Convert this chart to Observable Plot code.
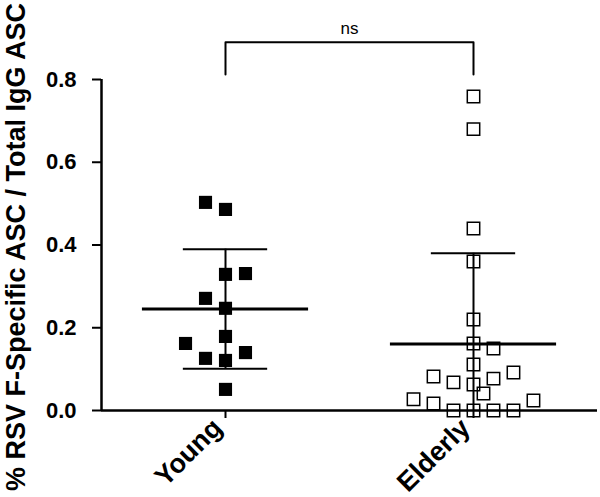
<!DOCTYPE html>
<html>
<head>
<meta charset="utf-8">
<script src="https://cdn.jsdelivr.net/npm/d3@7"></script>
<script src="https://cdn.jsdelivr.net/npm/@observablehq/plot@0.6"></script>
<style>
  html, body { margin: 0; padding: 0; background: #fff; }
  #chart svg { display: block; }
</style>
</head>
<body>
<div id="chart"></div>
<script>
// ---- Data ----
const groups = ["Young", "Elderly"];
const youngValues   = [0.503, 0.486, 0.329, 0.331, 0.271, 0.247, 0.179, 0.162, 0.126, 0.121, 0.140, 0.051];
const youngSlots    = [-1, 0, 0, 1, -1, 0, 0, -2, -1, 0, 1, 0];
const elderlyValues = [0.759, 0.680, 0.440, 0.360, 0.220, 0.162, 0.150, 0.111, 0.082, 0.068, 0.063, 0.077, 0.092, 0.041, 0.027, 0.017, 0, 0, 0, 0, 0.024];
const elderlySlots  = [0, 0, 0, 0, 0, 0, 1, 0, -2, -1, 0, 1, 2, 0.5, -3, -2, -1, 0, 1, 2, 3];
const yTicks = [0, 0.2, 0.4, 0.6, 0.8];
const yTitle = "% RSV F-Specific ASC / Total IgG ASC";
const sigLabel = "ns";
const bracketTop = 0.89;
const bracketBottom = 0.812;

// ---- Build tables ----
const SLOT = 0.0806;
function rows(values, slots, gi) {
  return values.map((v, i) => ({group: groups[gi], x: gi + 1 + slots[i] * SLOT, value: v}));
}
const young = rows(youngValues, youngSlots, 0);
const elderly = rows(elderlyValues, elderlySlots, 1);
const stats = [youngValues, elderlyValues].map((vals, gi) => {
  const m = d3.mean(vals), s = d3.deviation(vals);
  return {x: gi + 1, mean: m, lo: m - s, hi: m + s};
});
const caps = stats.flatMap(d => [{x: d.x, v: d.hi}, {x: d.x, v: d.lo}]);
const bracket = [
  {x: 1, y: bracketBottom}, {x: 1, y: bracketTop},
  {x: 2, y: bracketTop}, {x: 2, y: bracketBottom}
];

const font = "'Liberation Sans', Arial, Helvetica, sans-serif";

const chart = Plot.plot({
  width: 600,
  height: 497,
  marginLeft: 101,
  marginRight: 3,
  marginTop: 79,
  marginBottom: 87,
  style: {fontFamily: font, fontWeight: "bold", color: "#000", background: "#fff"},
  x: {type: "linear", domain: [0.5, 2.5]},
  y: {domain: [0, 0.8]},
  marks: [
    // axes
    Plot.axisY({ticks: yTicks, tickFormat: d3.format(".1f"), tickSize: 9, tickPadding: 16,
                fontSize: 22, fontWeight: "bold", strokeWidth: 2, label: null}),
    Plot.axisX({ticks: [1, 2], tickFormat: () => "", tickSize: 8, strokeWidth: 2, label: null}),
    Plot.axisX({ticks: [1, 2], tickFormat: d => groups[d - 1], tickSize: 0, tickPadding: 16,
                dx: -8, dy: -3, tickRotate: -45, fontSize: 27, fontWeight: "bold", label: null}),
    Plot.ruleX([0.5], {y1: 0, y2: 0.8, strokeWidth: 2.5}),
    Plot.ruleY([0], {strokeWidth: 2.5}),
    Plot.text([yTitle], {frameAnchor: "left", dx: -85, dy: 2, rotate: -90, textAnchor: "middle",
                         fontSize: 27, fontWeight: "bold", fill: "#000"}),
    // SD bars
    Plot.ruleX(stats, {x: "x", y1: "lo", y2: "hi", strokeWidth: 2, clip: true}),
    Plot.ruleY(caps, {y: "v", x1: d => d.x - 0.17, x2: d => d.x + 0.17, strokeWidth: 2, clip: true}),
    // means
    Plot.ruleY(stats, {y: "mean", x1: d => d.x - 0.335, x2: d => d.x + 0.335, strokeWidth: 3}),
    // points
    Plot.dot(young, {x: "x", y: "value", symbol: "square", r: 7.4, fill: "#000", stroke: "none"}),
    Plot.dot(elderly, {x: "x", y: "value", symbol: "square", r: 7, fill: "none", stroke: "#000", strokeWidth: 1.5}),
    // significance bracket
    Plot.line(bracket, {x: "x", y: "y", strokeWidth: 2, curve: "linear"}),
    Plot.text([sigLabel], {x: () => 1.5, y: () => bracketTop, dy: -14, fontSize: 17, fontWeight: "normal", fill: "#000"})
  ]
});
document.getElementById("chart").appendChild(chart);
</script>
</body>
</html>
